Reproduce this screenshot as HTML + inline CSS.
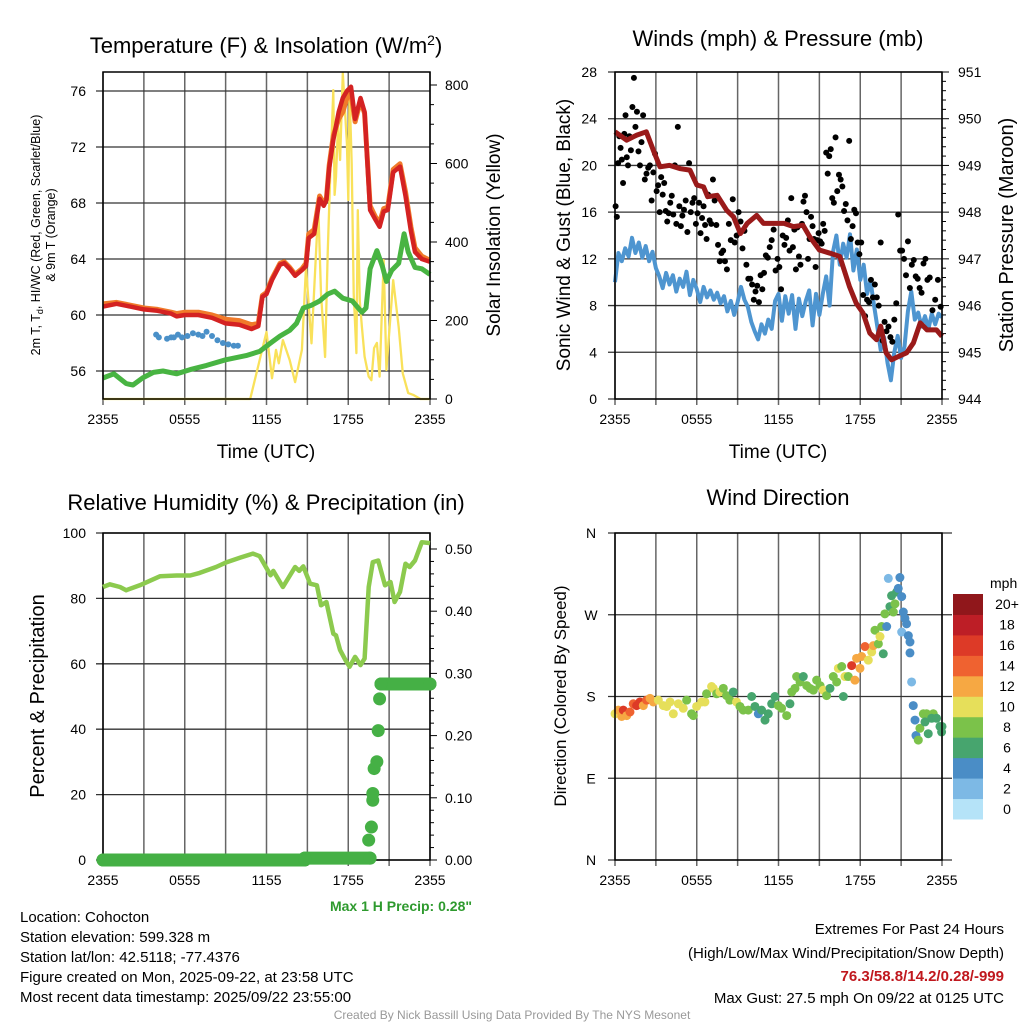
<!DOCTYPE html>
<html><head><meta charset="utf-8"><style>
html,body{margin:0;padding:0;background:#fff}
svg{display:block;font-family:"Liberation Sans",sans-serif}
</style></head><body>
<svg id="c" width="1024" height="1024" viewBox="0 0 1024 1024">
<rect width="1024" height="1024" fill="#fff"/>
<g id="g1"></g>
<g id="g2"></g>
<g id="g3"></g>
<g id="g4"></g>
<g font-size="15" fill="#000">
<text x="20" y="922">Location: Cohocton</text>
<text x="20" y="942">Station elevation: 599.328 m</text>
<text x="20" y="962">Station lat/lon: 42.5118; -77.4376</text>
<text x="20" y="982">Figure created on Mon, 2025-09-22, at 23:58 UTC</text>
<text x="20" y="1002">Most recent data timestamp: 2025/09/22 23:55:00</text>
</g>
<g font-size="15" text-anchor="end">
<text x="1004" y="934">Extremes For Past 24 Hours</text>
<text x="1004" y="958">(High/Low/Max Wind/Precipitation/Snow Depth)</text>
<text x="1004" y="981" fill="#c0181e" font-weight="bold">76.3/58.8/14.2/0.28/-999</text>
<text x="1004" y="1003">Max Gust: 27.5 mph On 09/22 at 0125 UTC</text>
</g>
<text x="472" y="911" text-anchor="end" font-size="14" font-weight="bold" fill="#2e9a2e">Max 1 H Precip: 0.28"</text>
<text x="512" y="1019" text-anchor="middle" font-size="12" fill="#999">Created By Nick Bassill Using Data Provided By The NYS Mesonet</text>
</svg>
<script>
// ---------- data ----------
const xTickLabels = ["2355","0555","1155","1755","2355"];
const tempTicks = [56,60,64,68,72,76];
const solarTicks = [0,200,400,600,800];
const windTicks = [0,4,8,12,16,20,24,28];
const presTicks = [944,945,946,947,948,949,950,951];
const rhTicks = [0,20,40,60,80,100];
const precipTicks = ["0.00","0.10","0.20","0.30","0.40","0.50"];
const dirTicks = ["N","E","S","W","N"];
const speedBins = ["0","2","4","6","8","10","12","14","16","18","20+"];
const speedColors = ["#b5e3f8","#7db9e5","#4a8dc6","#47a56e","#7bc24a","#e6df5a","#f6a843","#ef6230","#dd3a27","#bd1e26","#90171b"];

const tTimes = [0,1,2,3,4,5,5.4,6,7,8,9,10,10.9,11.4,11.7,12,12.4,13,13.3,13.7,14.1,14.6,14.9,15.1,15.5,15.9,16.2,16.4,16.6,16.9,17.3,17.6,17.9,18.2,18.5,18.9,19.2,19.4,19.6,20.0,20.3,20.6,20.9,21.3,21.8,22.2,22.6,22.9,23.4,24];
const tempRed = [60.6,60.8,60.6,60.4,60.3,60.1,59.9,60.0,60.0,59.8,59.4,59.3,59.0,59.2,61.3,61.5,62.5,63.6,63.7,63.3,62.8,63.2,63.5,65.5,65.8,68.3,67.8,68.2,70.5,72.5,74.5,75.5,76.0,76.3,74.0,75.5,74.5,71.0,67.5,66.8,66.3,67.4,67.5,70.2,70.6,68.5,66.0,64.5,64.0,63.8];
const temp9m = [60.8,60.9,60.7,60.5,60.4,60.2,60.1,60.2,60.2,60.0,59.7,59.6,59.3,59.4,61.4,61.6,62.6,63.7,63.8,63.4,62.9,63.3,63.7,65.8,66.1,68.5,68.0,68.3,70.7,72.8,74.0,74.5,75.5,75.8,73.8,75.3,74.4,71.2,67.8,67.0,66.6,67.6,67.7,70.4,70.8,68.8,66.3,64.8,64.2,63.9];
const dTimes = [0,0.8,1.7,2.2,2.9,3.7,4.4,5.4,6.4,7.6,9.0,10.5,11.5,12.3,13.0,13.7,14.2,14.7,15.3,15.9,16.5,17.0,17.6,18.3,19.0,19.3,19.6,20.1,20.5,20.8,21.2,21.7,22.1,22.4,22.9,23.4,24];
const dewpoint = [55.5,55.8,55.1,55.0,55.5,55.9,56.0,55.8,56.1,56.4,56.8,57.1,57.4,58.0,58.5,58.9,59.4,60.5,60.7,61.0,61.5,61.7,61.2,61.0,60.2,60.5,63.3,64.6,63.5,62.4,63.2,63.7,65.8,64.5,63.4,63.3,62.9];
const hiTimes = [3.9,4.1,4.7,5.0,5.2,5.5,5.8,6.2,6.6,7.0,7.3,7.6,8.0,8.4,8.8,9.2,9.6,9.9];
const heatIndex = [58.6,58.4,58.3,58.4,58.4,58.6,58.4,58.5,58.7,58.6,58.5,58.8,58.5,58.2,58.0,57.9,57.8,57.8];
const sTimes = [0,10.8,12.0,12.4,12.7,12.9,13.2,13.7,14.1,14.6,14.9,15.3,15.8,16.0,16.3,16.5,16.7,16.9,17.0,17.1,17.25,17.4,17.6,17.9,18.0,18.1,18.25,18.4,18.6,18.7,18.85,19.0,19.2,19.5,19.7,19.9,20.1,20.3,20.6,20.8,21.3,21.7,22.0,22.4,22.8,23.3,24];
const solar = [0,0,171,53,125,91,150,99,43,125,336,142,489,269,107,380,591,787,520,566,700,609,830,652,507,780,600,269,117,481,250,184,108,57,48,130,143,57,354,74,303,183,65,15,10,0,0];

const pTimes = [0,0.86,1.6,2.3,2.9,3.3,4.0,4.8,5.5,6.0,6.5,6.8,7.5,8.2,8.7,9.2,9.7,10.4,10.9,11.6,12.4,13.1,13.8,14.3,15.0,15.8,16.5,17.2,17.7,18.2,18.7,19.2,19.5,19.9,20.3,20.8,21.4,21.9,22.4,22.9,23.6,24];
const pressure = [949.72,949.54,949.65,949.72,949.26,948.97,949.0,948.93,948.9,948.58,948.54,948.33,948.36,948.04,947.9,947.54,947.76,947.93,947.76,947.76,947.76,947.69,947.72,947.47,947.19,947.12,947.05,946.41,946.05,945.84,945.41,945.27,945.56,944.99,944.84,944.91,944.99,945.2,945.63,945.48,945.48,945.34];
const windSpeed = [10,12.5,11.8,12.9, 12.2,13.8,12.5,13.4, 12.1,13.1,11.8,12.6, 11.2,10.5,9.5,10.8, 9.8,10.6,9.2,10.3, 9.6,10.9,8.9,10.2, 9.4,8.3,9.6,8.7, 9.3,8.5,9.1,8.2, 8.8,7.5,8.4,7.2, 8.3,9.6,8.5,7.9, 6.6,5.8,5.1,6.4, 5.6,6.8,6.0,8.4, 9.0,6.7,8.8,7.3, 8.9,6.0,8.6,7.1, 8.4,9.3,6.3,9.0, 7.2,9.0,10.5,8.0, 12.6,14.0,11.5,13.3, 12.1,14.1,11.0,12.8, 10.2,11.5,9.0,10.1, 8.1,6.2,4.2,5.3, 3.1,1.6,4.0,5.4, 3.5,4.5,7.5,9.2, 6.8,7.4,6.2,7.1, 6.0,7.3,6.4,7.3,7.0];
const gustByHour = [
[16.5,15.6,20.2,22.5,21.5,20.5,18.5,22.7,24.3,20.7,20],
[22.5,21.3,25,27.5,23.3,24.6,21.2,20,22],
[24.3,18.8,19.3,19.8,20,17,19.4,21],
[17.8,18.3,16,19,17.5,18.5,16.1,15.2,15.9],
[16.8,17.4,15.8,20,15,23.3,16.5,14.8,15.7],
[16.2,17,14.3,20.2,16,16.8,17.2,15],
[15.9,16.8,14.2,15.5,16.5,14.9,13.7,17.5,15.3],
[15,18.8,17,14.9,13.2,11.8,12.5,12.7],
[11.8,11.1,15,13.6,17.1,13.4,14],
[16,15.2,12.9,14.4,11.5,10.3,10.3],
[9.8,8.5,9.2,9.7,8.3,10.6,9.4,10.8],
[12.3,12.1,13,13.6,14.5,11,12],
[11.3,9.4,14,13.2,13.8,15.3,12.7,17.2],
[13,14.5,11.1,14.7,12.2,11.5,15,16.9,17.4],
[16,12,13.7,15.6,14.8,13.7,11.3,13.6,14.2],
[13.5,13.3,15,14.4,21.1,19.3,20.8,21.4,17.2],
[16.8,22.4,17.8,19.2,18.8,18.2,16.1,16.7],
[15.3,22.1,13.7,14.8,16.2,15.9,13.4,12.4],
[13.4,8.9,7.1,8.5,8.3,10.2,8.7],
[9.8,8.7,8.0,13.4,5,6.6,5.8],
[6.2,5.3,4.9,6.8,8.2,15.8,12.7],
[12.7,12,10.6,13.5,9.5,11.5,11.9],
[10.5,10.3,9.5,9.1,11.6,12,10.2],
[10.4,7.6,8.5,10.2,7.9]];

const rhTimes = [0,0.5,1.25,1.7,2.7,4.2,5.4,6.4,7.1,8.3,9.1,10.1,11.0,11.5,12.3,12.5,13.2,14.1,14.4,14.7,15.2,15.7,16.0,16.4,16.9,17.1,17.4,17.8,18.1,18.5,18.9,19.2,19.5,19.8,20.2,20.7,21.1,21.4,21.8,22.2,22.5,22.9,23.4,24];
const rh = [83.5,84.3,83.5,82.5,84,86.8,87,87,87.8,89.6,91.1,92.5,93.7,92.9,87.1,88.4,83.5,89.6,88.4,89.8,84.5,84,77.9,78.9,69.2,68.7,64.2,61.1,59.1,62.1,59.6,61.6,83.5,91.1,91.6,84,85,78.9,82,90.6,89.6,91.6,97.2,96.9];
const prTimes = [0,14.8,14.8,19.6,19.5,19.7,19.8,19.8,19.9,20.1,20.2,20.3,20.4,24];
const precip = [0,0,0.003,0.003,0.032,0.053,0.096,0.107,0.147,0.158,0.208,0.259,0.283,0.283];

const dirTimes = [0,0.24,0.49,0.61,0.86,1.10,1.34,1.59,1.83,2.08,2.32,2.57,2.81,3.18,3.55,3.79,4.04,4.28,4.65,5.01,5.26,5.62,5.75,5.99,6.36,6.60,6.72,7.09,7.21,7.46,7.70,7.95,8.19,8.43,8.68,8.92,9.17,9.41,9.78,10.03,10.27,10.52,10.76,11.01,11.25,11.50,11.74,11.99,12.23,12.60,12.84,12.97,13.21,13.33,13.58,13.82,14.07,14.31,14.56,14.80,15.05,15.29,15.53,15.78,16.02,16.27,16.39,16.64,16.76,16.88,17.12,17.37,17.61,17.73,17.98,18.10,18.35,18.59,18.84,18.96,19.08,19.33,19.45,19.57,19.69,19.81,19.94,20.18,20.30,20.43,20.55,20.67,20.79,20.06,20.91,21.04,21.16,21.04,21.28,21.40,21.53,21.65,21.65,21.77,21.89,22.02,22.09,22.26,22.38,22.63,22.87,22.75,22.99,23.36,23.24,23.60,23.85,23.97,24.0];
const dirs = [161,165,158,165,159,163,172,170,174,170,176,178,174,176,170,169,174,161,172,167,176,161,159,169,174,174,183,191,189,183,185,189,181,176,185,174,169,165,165,180,169,161,165,154,161,172,180,170,167,159,172,185,189,202,196,202,192,189,187,198,192,187,181,189,202,196,211,213,180,202,202,214,198,222,211,224,235,220,229,236,253,238,246,257,227,271,257,279,291,273,282,295,299,310,311,290,273,251,266,260,247,240,228,196,170,154,137,132,145,161,161,152,139,161,156,156,147,141,147];
const dirSpeeds = [10,12,11,16,12,14,14,15,16,12,13,12,12,10,10,9,10,10,10,9,8,8,8,10,10,9,8,10,9,8,9,8,8,8,6,10,8,8,8,6,6,4,6,6,6,6,6,8,8,8,6,8,8,8,8,6,8,8,8,8,8,10,8,6,8,8,10,8,6,10,8,16,12,12,12,12,14,10,10,12,8,8,10,8,6,8,4,6,6,8,8,6,4,2,4,4,4,2,4,4,4,4,4,2,4,4,4,8,8,8,8,6,6,8,6,6,6,6,6];

// ---------- helpers ----------
const NS="http://www.w3.org/2000/svg";
function el(parent,tag,attrs,txt){const e=document.createElementNS(NS,tag);for(const k in attrs)e.setAttribute(k,attrs[k]);if(txt!==undefined)e.textContent=txt;parent.appendChild(e);return e;}
function xScale(x0,x1){return h=>x0+h*(x1-x0)/24;}
function lin(d0,d1,r0,r1){return v=>r0+(v-d0)*(r1-r0)/(d1-d0);}
function path(xs,ys,X,Y){return xs.map((t,i)=>(i?"L":"M")+X(t).toFixed(1)+","+Y(ys[i]).toFixed(1)).join("");}

function frame(g,x0,x1,y0,y1,X){
  for(let h=0;h<=24;h+=3){
    const l=el(g,"line",{x1:X(h),x2:X(h),y1:y0,y2:y1+6,stroke:"#666","stroke-width":1.5});
    
    
  }
  xTickLabels.forEach((lab,i)=>{
    const t=el(g,"text",{x:X(i*6),y:y1+25,"text-anchor":"middle","font-size":14},lab);
    
    
  });
}
function box(g,x0,x1,y0,y1){
  const r=el(g,"rect",{x:x0,y:y0,width:x1-x0,height:y1-y0,fill:"none",stroke:"#000","stroke-width":1.5});
  
  
}
function hgrid(g,x0,x1,y){
  const l=el(g,"line",{x1:x0-7,x2:x1,y1:y,y2:y,stroke:"#333","stroke-width":1.3});
  
  
}
function rtick(g,x1,y,len){
  const l=el(g,"line",{x1:x1,x2:x1+len,y1:y,y2:y,stroke:"#000","stroke-width":1});
  
  
}
function title(g,x,y,txt,size){
  const t=el(g,"text",{x:x,y:y,"text-anchor":"middle","font-size":size||22},txt);
  
  
  return t;
}
function vtitle(g,x,y,txt,size){
  const t=el(g,"text",{x:x,y:y,"text-anchor":"middle","font-size":size||19,transform:`rotate(-90 ${x} ${y})`},txt);
  
  
  return t;
}

// ---------- Panel 1: temperature ----------
(function(){
  const g=document.getElementById("g1");
  const x0=103,x1=430,y0=72,y1=399;
  const X=xScale(x0,x1), TY=lin(54,76,399,91), SY=lin(0,800,399,85);
  frame(g,x0,x1,y0,y1,X);
  tempTicks.forEach(v=>{hgrid(g,x0,x1,TY(v));
    const t=el(g,"text",{x:86,y:TY(v)+5,"text-anchor":"end","font-size":14},v);
    
    });
  for(let v=0;v<=800;v+=50) rtick(g,x1,SY(v),v%200===0?7:4);
  solarTicks.forEach(v=>{
    const t=el(g,"text",{x:445,y:SY(v)+5,"font-size":14},v);
    
    });
  const a=el(g,"path",{d:path(sTimes,solar,X,SY),fill:"none",stroke:"#f9e15a","stroke-width":2.3,"stroke-linejoin":"round"});
  
  
  const b=el(g,"path",{d:path(dTimes,dewpoint,X,TY),fill:"none",stroke:"#48b442","stroke-width":5,"stroke-linejoin":"round"});
  
  
  const c=el(g,"path",{d:path(tTimes,temp9m,X,TY),fill:"none",stroke:"#f07a2a","stroke-width":5,"stroke-linejoin":"round"});
  
  
  const d=el(g,"path",{d:path(tTimes,tempRed,X,TY),fill:"none",stroke:"#d42222","stroke-width":4.5,"stroke-linejoin":"round"});
  
  
  hiTimes.forEach((t,i)=>{
    const p=el(g,"circle",{cx:X(t),cy:TY(heatIndex[i]),r:3,fill:"#4a90c8"});
    
    });
  box(g,x0,x1,y0,y1);
  const tt=title(g,266,53,"");
  tt.innerHTML='Temperature (F) &amp; Insolation (W/m<tspan dy="-8" font-size="14">2</tspan><tspan dy="8">)</tspan>';
  const l1=el(g,"text",{x:0,y:0,"text-anchor":"middle","font-size":12.5,transform:"rotate(-90) translate(-235 40)"});
  l1.innerHTML='2m T, T<tspan dy="3" font-size="9">d</tspan><tspan dy="-3">, HI/WC (Red, Green, Scarlet/Blue)</tspan>';
  
  
  const l2=el(g,"text",{x:0,y:0,"text-anchor":"middle","font-size":12.5,transform:"rotate(-90) translate(-235 55)"},"& 9m T (Orange)");
  
  
  vtitle(g,500,235,"Solar Insolation (Yellow)",19);
  const xt=el(g,"text",{x:266,y:458,"text-anchor":"middle","font-size":19},"Time (UTC)");
  
  
})();

// ---------- Panel 2: winds ----------
(function(){
  const g=document.getElementById("g2");
  const x0=615,x1=942,y0=72,y1=399;
  const X=xScale(x0,x1), WY=lin(0,28,399,72), PY=lin(944,951,399,72);
  frame(g,x0,x1,y0,y1,X);
  windTicks.forEach(v=>{hgrid(g,x0,x1,WY(v));
    const t=el(g,"text",{x:597,y:WY(v)+5,"text-anchor":"end","font-size":14},v);
    
    });
  for(let v=944;v<=951.001;v+=0.2) rtick(g,x1,PY(v),Math.abs(v-Math.round(v))<0.01?7:4);
  presTicks.forEach(v=>{
    const t=el(g,"text",{x:958,y:PY(v)+5,"font-size":14},v);
    
    });
  const wt=windSpeed.map((v,i)=>i*0.25);
  const a=el(g,"path",{d:path(wt,windSpeed,X,WY),fill:"none",stroke:"#4e95d0","stroke-width":4,"stroke-linejoin":"round"});
  
  
  gustByHour.forEach((arr,hr)=>arr.forEach((v,i)=>{
    const p=el(g,"circle",{cx:X(hr+(i+0.5)/arr.length),cy:WY(v),r:3,fill:"#000"});
    
    }));
  const b=el(g,"path",{d:path(pTimes,pressure,X,PY),fill:"none",stroke:"#9a1a1a","stroke-width":5,"stroke-linejoin":"round"});
  
  
  box(g,x0,x1,y0,y1);
  title(g,778,46,"Winds (mph) & Pressure (mb)");
  vtitle(g,570,235,"Sonic Wind & Gust (Blue, Black)",19);
  vtitle(g,1013,235,"Station Pressure (Maroon)",20);
  const xt=el(g,"text",{x:778,y:458,"text-anchor":"middle","font-size":19},"Time (UTC)");
  
  
})();

// ---------- Panel 3: RH & precip ----------
(function(){
  const g=document.getElementById("g3");
  const x0=103,x1=430,y0=533,y1=860;
  const X=xScale(x0,x1), RY=lin(0,100,860,533), PR=lin(0,0.5,860,549);
  frame(g,x0,x1,y0,y1,X);
  rhTicks.forEach(v=>{hgrid(g,x0,x1,RY(v));
    const t=el(g,"text",{x:86,y:RY(v)+5,"text-anchor":"end","font-size":14},v);
    
    });
  for(let v=0;v<=0.5001;v+=0.02) rtick(g,x1,PR(v),Math.abs(v*10-Math.round(v*10))<0.01?7:4);
  precipTicks.forEach(v=>{
    const t=el(g,"text",{x:445,y:PR(+v)+5,"font-size":14},v);
    
    });
  box(g,x0,x1,y0,y1);
  const a=el(g,"path",{d:path(rhTimes,rh,X,RY),fill:"none",stroke:"#8cca4e","stroke-width":4.5,"stroke-linejoin":"round"});
  
  
  for(let i=1;i<prTimes.length;i++){
    if(precip[i]===precip[i-1]){
      const s=el(g,"line",{x1:X(prTimes[i-1]),x2:X(prTimes[i]),y1:PR(precip[i]),y2:PR(precip[i]),stroke:"#45b045","stroke-width":13,"stroke-linecap":"round"});
      
      
    }
  }
  prTimes.forEach((t,i)=>{
    const p=el(g,"circle",{cx:X(t),cy:PR(precip[i]),r:6.5,fill:"#45b045"});
    
    });
  title(g,266,510,"Relative Humidity (%) & Precipitation (in)");
  vtitle(g,44,696,"Percent & Precipitation",20);
})();

// ---------- Panel 4: wind direction ----------
(function(){
  const g=document.getElementById("g4");
  const x0=615,x1=942,y0=533,y1=860;
  const X=xScale(x0,x1), DY=lin(0,360,860,533);
  frame(g,x0,x1,y0,y1,X);
  dirTicks.forEach((lab,i)=>{hgrid(g,x0,x1+10,DY(i*90));
    const t=el(g,"text",{x:591,y:DY(i*90)+5,"text-anchor":"middle","font-size":14},lab);
    
    });
  dirTimes.forEach((t,i)=>{
    const idx=Math.min(10,Math.round(dirSpeeds[i]/2));
    const p=el(g,"circle",{cx:X(t),cy:DY(dirs[i]),r:4.5,fill:speedColors[idx]});
    
    });
  box(g,x0,x1,y0,y1);
  title(g,778,505,"Wind Direction");
  vtitle(g,566,696,"Direction (Colored By Speed)",17);
  const bh=225/speedBins.length;
  speedBins.forEach((lab,i)=>{
    const y=819-(i+1)*bh;
    const r=el(g,"rect",{x:953,y:y,width:30,height:bh+0.5,fill:speedColors[i]});
    
    
    const t=el(g,"text",{x:1007,y:y+bh/2+5,"text-anchor":"middle","font-size":14},lab);
    
    
  });
  const m=el(g,"text",{x:990,y:588,"font-size":14},"mph");
  
  
})();
</script>
</body></html>
